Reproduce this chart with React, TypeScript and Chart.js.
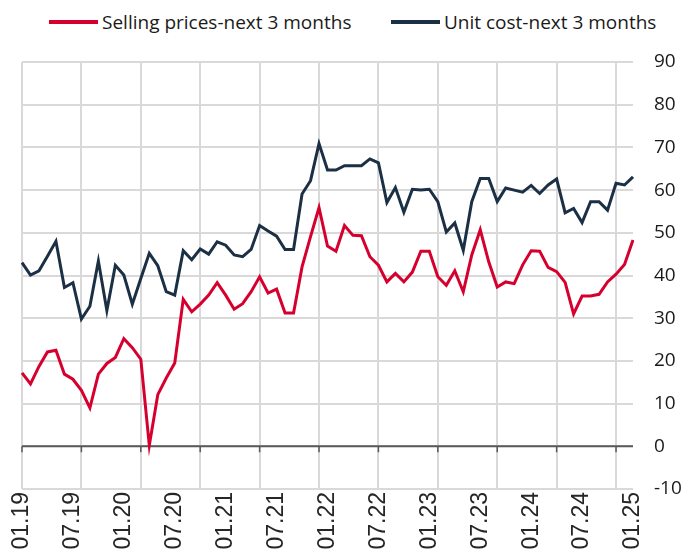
import React, { useEffect, useRef } from 'react';
import { Chart, registerables } from 'chart.js';
Chart.register(...registerables);

const categories = [
  '01.19','02.19','03.19','04.19','05.19','06.19','07.19','08.19','09.19','10.19','11.19','12.19',
  '01.20','02.20','03.20','04.20','05.20','06.20','07.20','08.20','09.20','10.20','11.20','12.20',
  '01.21','02.21','03.21','04.21','05.21','06.21','07.21','08.21','09.21','10.21','11.21','12.21',
  '01.22','02.22','03.22','04.22','05.22','06.22','07.22','08.22','09.22','10.22','11.22','12.22',
  '01.23','02.23','03.23','04.23','05.23','06.23','07.23','08.23','09.23','10.23','11.23','12.23',
  '01.24','02.24','03.24','04.24','05.24','06.24','07.24','08.24','09.24','10.24','11.24','12.24',
  '01.25',
];

const sellingPrices = [
  17.2, 14.6, 18.7, 22.1, 22.5, 16.9, 15.7, 13.1, 9.0, 16.9, 19.4, 20.8,
  25.2, 23.1, 20.4, 0.2, 12.1, 16.0, 19.5, 34.4, 31.5, 33.3, 35.4, 38.3,
  35.4, 32.1, 33.4, 36.2, 39.7, 35.9, 36.8, 31.2, 31.2, 42.0, 49.1, 55.9,
  46.9, 45.7, 51.7, 49.4, 49.3, 44.4, 42.4, 38.5, 40.5, 38.5, 40.8, 45.7,
  45.7, 39.7, 37.7, 41.1, 36.2, 44.8, 50.7, 43.2, 37.3, 38.5, 38.1, 42.5,
  45.8, 45.7, 41.9, 40.9, 38.4, 31.0, 35.2, 35.2, 35.6, 38.5, 40.3, 42.6,
  48.3,
];

const unitCost = [
  43.0, 40.1, 41.1, 44.5, 48.0, 37.2, 38.3, 29.8, 32.8, 43.4, 31.8, 42.4,
  40.1, 33.3, 39.3, 45.2, 42.3, 36.2, 35.4, 45.8, 43.7, 46.2, 45.0, 47.9,
  47.1, 44.8, 44.4, 46.1, 51.7, 50.4, 49.2, 46.1, 46.1, 59.1, 62.2, 70.9,
  64.7, 64.7, 65.7, 65.7, 65.7, 67.3, 66.4, 57.1, 60.6, 54.8, 60.2, 60.0,
  60.2, 57.3, 50.2, 52.3, 45.9, 57.3, 62.7, 62.7, 57.3, 60.5, 60.0, 59.5,
  61.1, 59.2, 61.2, 62.6, 54.7, 55.7, 52.4, 57.3, 57.3, 55.3, 61.6, 61.2,
  63.1,
];

const seriesNames = ['Selling prices-next 3 months', 'Unit cost-next 3 months'];
const Y_MIN = -10;
const Y_MAX = 90;
const Y_STEP = 10;
const LABEL_EVERY = 6;
const GRID_EVERY = 7;

const RED = '#d6002f';
const NAVY = '#1b2f45';
const GRID = '#d9d9d9';
const AXIS = '#595959';

const zeroAxis = {
  id: 'zeroAxis',
  beforeDatasetsDraw(chart: any) {
    const { ctx, chartArea, scales } = chart;
    const x = scales.x;
    const y = scales.y;
    const y0 = y.getPixelForValue(0);
    ctx.save();
    ctx.strokeStyle = AXIS;
    ctx.lineWidth = 2;
    ctx.beginPath();
    ctx.moveTo(chartArea.left, y0);
    ctx.lineTo(chartArea.right, y0);
    ctx.stroke();
    ctx.lineWidth = 1.5;
    ctx.beginPath();
    for (let i = 0; i < categories.length; i += GRID_EVERY) {
      const px = x.getPixelForValue(i);
      ctx.moveTo(px, y0);
      ctx.lineTo(px, y0 + 6);
    }
    ctx.stroke();
    ctx.restore();
  },
};

export default function App() {
  const ref = useRef<HTMLCanvasElement>(null);
  useEffect(() => {
    if (!ref.current) return;
    const chart = new Chart(ref.current, {
      type: 'line',
      data: {
        labels: categories,
        datasets: [
          { label: seriesNames[0], data: sellingPrices, borderColor: RED, backgroundColor: RED, borderWidth: 3, pointRadius: 0, tension: 0 },
          { label: seriesNames[1], data: unitCost, borderColor: NAVY, backgroundColor: NAVY, borderWidth: 3, pointRadius: 0, tension: 0 },
        ],
      },
      options: {
        responsive: false,
        animation: false,
        devicePixelRatio: 1,
        layout: { padding: { left: 22, top: 62, right: 0, bottom: 0 } },
        plugins: { legend: { display: false }, tooltip: { enabled: false } },
        scales: {
          x: {
            type: 'category',
            offset: false,
            border: { display: false },
            grid: {
              drawTicks: false,
              color: (c: any) => (c.index % GRID_EVERY === 0 ? GRID : 'rgba(0,0,0,0)'),
              lineWidth: 2,
            },
            ticks: {
              autoSkip: false,
              minRotation: 90,
              maxRotation: 90,
              padding: 3,
              color: '#262626',
              font: { family: '"Liberation Sans", Arial, sans-serif', size: 23 },
              callback: (_v: any, i: number) => (i % LABEL_EVERY === 0 ? categories[i] : ''),
            },
            afterFit: (s: any) => { s.height = 66; },
          },
          y: {
            position: 'right',
            min: Y_MIN,
            max: Y_MAX,
            border: { display: false },
            grid: { drawTicks: false, color: GRID, lineWidth: 2 },
            ticks: {
              stepSize: Y_STEP,
              padding: 21,
              color: '#1a1a1a',
              font: { family: '"Open Sans", sans-serif', size: 19 },
            },
            afterFit: (s: any) => { s.width = 67; },
          },
        },
      },
      plugins: [zeroAxis],
    });
    return () => chart.destroy();
  }, []);

  const legendItem = (name: string, color: string, left: number) => (
    <div style={{ position: 'absolute', left, top: 9, height: 26, display: 'flex', alignItems: 'center', whiteSpace: 'nowrap' }}>
      <span style={{ display: 'inline-block', width: 49, height: 4, background: color, marginRight: 4 }} />
      <span style={{ font: '19px "Open Sans", sans-serif', color: '#1a1a1a' }}>{name}</span>
    </div>
  );

  return (
    <div style={{ position: 'fixed', left: 0, top: 0, width: 700, height: 555, background: '#fff' }}>
      {legendItem(seriesNames[0], RED, 49)}
      {legendItem(seriesNames[1], NAVY, 391)}
      <canvas ref={ref} width={700} height={555} style={{ position: 'absolute', left: 0, top: 0 }} />
    </div>
  );
}
